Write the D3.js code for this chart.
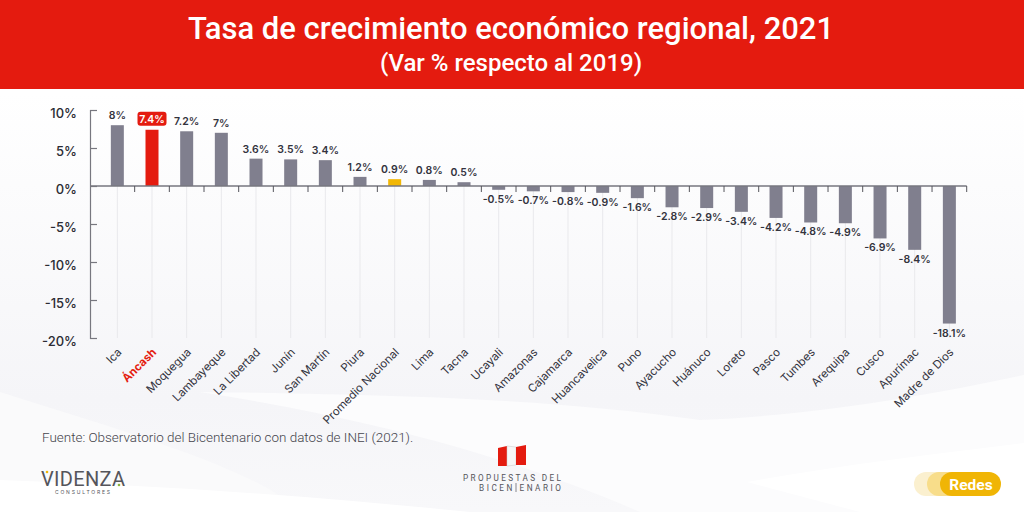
<!DOCTYPE html>
<html lang="es">
<head>
  <meta charset="UTF-8">
  <script src="https://d3js.org/d3.v7.min.js"></script>
  <style>
    html, body { margin: 0; padding: 0; background: #fff; overflow: hidden; }
    svg { display: block; }
    text { font-family: Inter, Roboto, sans-serif; }
    .title { font-family: Roboto, sans-serif; fill: #fff; text-anchor: middle; }
    .y-label { font-size: 13px; font-weight: 500; fill: #2b2b33; text-anchor: end; }
    .x-label { font-size: 11.4px; fill: #33333d; text-anchor: end; }
    .val { font-size: 10.5px; font-weight: 600; fill: #33333d; text-anchor: middle; }
  </style>
</head>
<body>
  <div id="chart"></div>
  <script>
    const regions = ["Ica", "Áncash", "Moquegua", "Lambayeque", "La Libertad", "Junín", "San Martín", "Piura", "Promedio Nacional", "Lima", "Tacna", "Ucayali", "Amazonas", "Cajamarca", "Huancavelica", "Puno", "Ayacucho", "Huánuco", "Loreto", "Pasco", "Tumbes", "Arequipa", "Cusco", "Apurímac", "Madre de Dios"];
    const growth = [8, 7.4, 7.2, 7, 3.6, 3.5, 3.4, 1.2, 0.9, 0.8, 0.5, -0.5, -0.7, -0.8, -0.9, -1.6, -2.8, -2.9, -3.4, -4.2, -4.8, -4.9, -6.9, -8.4, -18.1];
    const yTicks = [10, 5, 0, -5, -10, -15, -20];

    const width = 1024, height = 512;
    const red = "#e41b0f", grey = "#807f8e", gold = "#f2b705", axisGrey = "#77777f";

    const svg = d3.select("#chart").append("svg")
      .attr("width", width).attr("height", height);

    // fondo
    const defs = svg.append("defs");
    const bg = defs.append("linearGradient").attr("id", "bg").attr("x1", 0).attr("y1", 0).attr("x2", 0).attr("y2", 1);
    bg.append("stop").attr("offset", "18%").attr("stop-color", "#ffffff");
    bg.append("stop").attr("offset", "78%").attr("stop-color", "#f5f5f8");
    bg.append("stop").attr("offset", "100%").attr("stop-color", "#f8f8fa");
    svg.append("rect").attr("width", width).attr("height", height).attr("fill", "url(#bg)");
    svg.append("path").attr("d", "M0 392 C120 430 260 470 300 512 L0 512 Z").attr("fill", "#fafafb");
    svg.append("path").attr("d", "M200 392 C420 395 560 400 700 420 C820 415 930 395 1024 375 L1024 512 L640 512 C520 460 380 420 200 392 Z").attr("fill", "#fcfcfd");
    svg.append("path").attr("d", "M747 482 C840 465 930 455 1024 443 L1024 512 L860 512 Z").attr("fill", "#ffffff");
    svg.append("path").attr("d", "M0 480 C150 485 300 495 470 512 L0 512 Z").attr("fill", "#ffffff");

    // cabecera
    svg.append("rect").attr("width", width).attr("height", 89).attr("fill", red);
    svg.append("text").attr("class", "title").attr("x", 511).attr("y", 39)
      .attr("font-size", 31).attr("font-weight", 500).text("Tasa de crecimiento económico regional, 2021");
    svg.append("text").attr("class", "title").attr("x", 511).attr("y", 71)
      .attr("font-size", 24).attr("font-weight", 500).text("(Var % respecto al 2019)");

    const x = d3.scaleBand().domain(regions).range([100, 966.7]);
    const y = d3.scaleLinear().domain([-20, 10]).range([338, 110]);
    const cx = d => x(d) + x.bandwidth() / 2;
    const barW = 13;

    // lineas verticales
    svg.append("g").selectAll("line").data(regions).enter().append("line")
      .attr("x1", cx).attr("x2", cx)
      .attr("y1", y(0)).attr("y2", y(-20))
      .attr("stroke", "#e9e9ec").attr("stroke-width", 1);

    // barras
    const rows = regions.map((r, i) => ({ r, v: growth[i] }));
    svg.append("g").selectAll("rect").data(rows).enter().append("rect")
      .attr("x", d => cx(d.r) - barW / 2)
      .attr("width", barW)
      .attr("y", d => y(Math.max(0, d.v)))
      .attr("height", d => Math.abs(y(d.v) - y(0)))
      .attr("fill", d => d.r === "Áncash" ? red : d.r === "Promedio Nacional" ? gold : grey);

    // eje y
    const yAxis = svg.append("g").attr("transform", "translate(90,0)")
      .call(d3.axisRight(y).tickValues(yTicks).tickSize(7).tickFormat(""));
    yAxis.selectAll("path, line").attr("stroke", axisGrey).attr("stroke-width", 1.2);
    yTicks.forEach(t => {
      svg.append("text").attr("class", "y-label").attr("x", 77).attr("y", y(t) + 8).text(t + "%");
    });

    // eje x
    const tickPos = d3.range(regions.length).map(i => x(regions[i]) + x.bandwidth());
    const zero = svg.append("g");
    zero.append("line").attr("x1", 90).attr("x2", 966.7).attr("y1", y(0)).attr("y2", y(0))
      .attr("stroke", axisGrey).attr("stroke-width", 1.6);
    zero.selectAll("line.t").data(tickPos).enter().append("line").attr("class", "t")
      .attr("x1", d => d).attr("x2", d => d)
      .attr("y1", y(0)).attr("y2", y(0) + 6)
      .attr("stroke", "#55555c").attr("stroke-width", 1);

    // etiquetas x
    svg.append("g").selectAll("text").data(regions).enter().append("text")
      .attr("class", "x-label")
      .attr("transform", d => `translate(${cx(d) + 5},${353}) rotate(-45)`)
      .style("fill", d => d === "Áncash" ? red : null)
      .style("font-weight", d => d === "Áncash" ? 700 : null)
      .text(d => d);

    // valores
    const fmt = v => v + "%";
    svg.append("g").selectAll("text").data(rows.filter(d => d.r !== "Áncash")).enter().append("text")
      .attr("class", "val")
      .attr("x", d => cx(d.r))
      .attr("y", d => d.v >= 0 ? y(d.v) - 6 : y(d.v) + 13)
      .text(d => fmt(d.v));

    const anc = rows[1];
    svg.append("rect").attr("x", cx(anc.r) - 14.5).attr("y", y(anc.v) - 18)
      .attr("width", 29).attr("height", 14).attr("rx", 3).attr("fill", red);
    svg.append("text").attr("class", "val").style("fill", "#fff")
      .attr("x", cx(anc.r)).attr("y", y(anc.v) - 7).text(fmt(anc.v));

    // fuente
    svg.append("text").attr("x", 42).attr("y", 442).attr("font-size", 13.45).attr("fill", "#44444c")
      .style("font-family", "Roboto, sans-serif").style("font-weight", 300)
      .text("Fuente: Observatorio del Bicentenario con datos de INEI (2021).");

    // logo Videnza
    svg.append("text").attr("x", 41).attr("y", 486).attr("font-size", 20)
      .attr("fill", "#55555b").attr("textLength", 84).style("font-family", "Roboto, sans-serif")
      .style("font-weight", 400).text("VIDENZA");
    svg.append("text").attr("x", 55).attr("y", 494).attr("font-size", 5)
      .attr("fill", "#55555b").attr("textLength", 55).text("CONSULTORES");
    svg.append("circle").attr("cx", 47).attr("cy", 472).attr("r", 1.3).attr("fill", gold);
    svg.append("circle").attr("cx", 119).attr("cy", 485).attr("r", 1.3).attr("fill", "#8cb33a");

    // logo Propuestas del Bicentenario
    const flag = svg.append("g");
    flag.append("path").attr("d", "M498 448 L507 446 L507 466 L498 466 Z").attr("fill", red);
    flag.append("path").attr("d", "M507 446 L516 447 L516 465 L507 466 Z").attr("fill", "#f7f7f7").attr("stroke", "#c9c9c9").attr("stroke-width", 0.5);
    flag.append("path").attr("d", "M516 447 L526 445 L526 465 L516 465 Z").attr("fill", red);
    svg.append("text").attr("x", 463).attr("y", 481).attr("font-size", 8.2).attr("fill", "#55555b")
      .attr("textLength", 98).style("font-family", "Roboto, sans-serif").text("PROPUESTAS  DEL");
    svg.append("text").attr("x", 479).attr("y", 490.5).attr("font-size", 8.2).attr("fill", "#55555b")
      .attr("textLength", 82).style("font-family", "Roboto, sans-serif").text("BICEN ENARIO");
    svg.append("line").attr("x1", 516).attr("x2", 516).attr("y1", 483).attr("y2", 492).attr("stroke", "#55555b").attr("stroke-width", 0.7);

    // etiqueta Redes
    svg.append("rect").attr("x", 914).attr("y", 472).attr("width", 45).attr("height", 24).attr("rx", 12).attr("fill", "#fbf0cf");
    svg.append("rect").attr("x", 927).attr("y", 472).attr("width", 45).attr("height", 24).attr("rx", 12).attr("fill", "#f8dd8a");
    svg.append("rect").attr("x", 940).attr("y", 472).attr("width", 61).attr("height", 24).attr("rx", 12).attr("fill", "#f0b505");
    svg.append("text").attr("x", 971).attr("y", 489.5).attr("text-anchor", "middle").attr("font-size", 15.5)
      .attr("font-weight", 700).attr("fill", "#fff").style("font-family", "Roboto, sans-serif").text("Redes");
  </script>
</body>
</html>
